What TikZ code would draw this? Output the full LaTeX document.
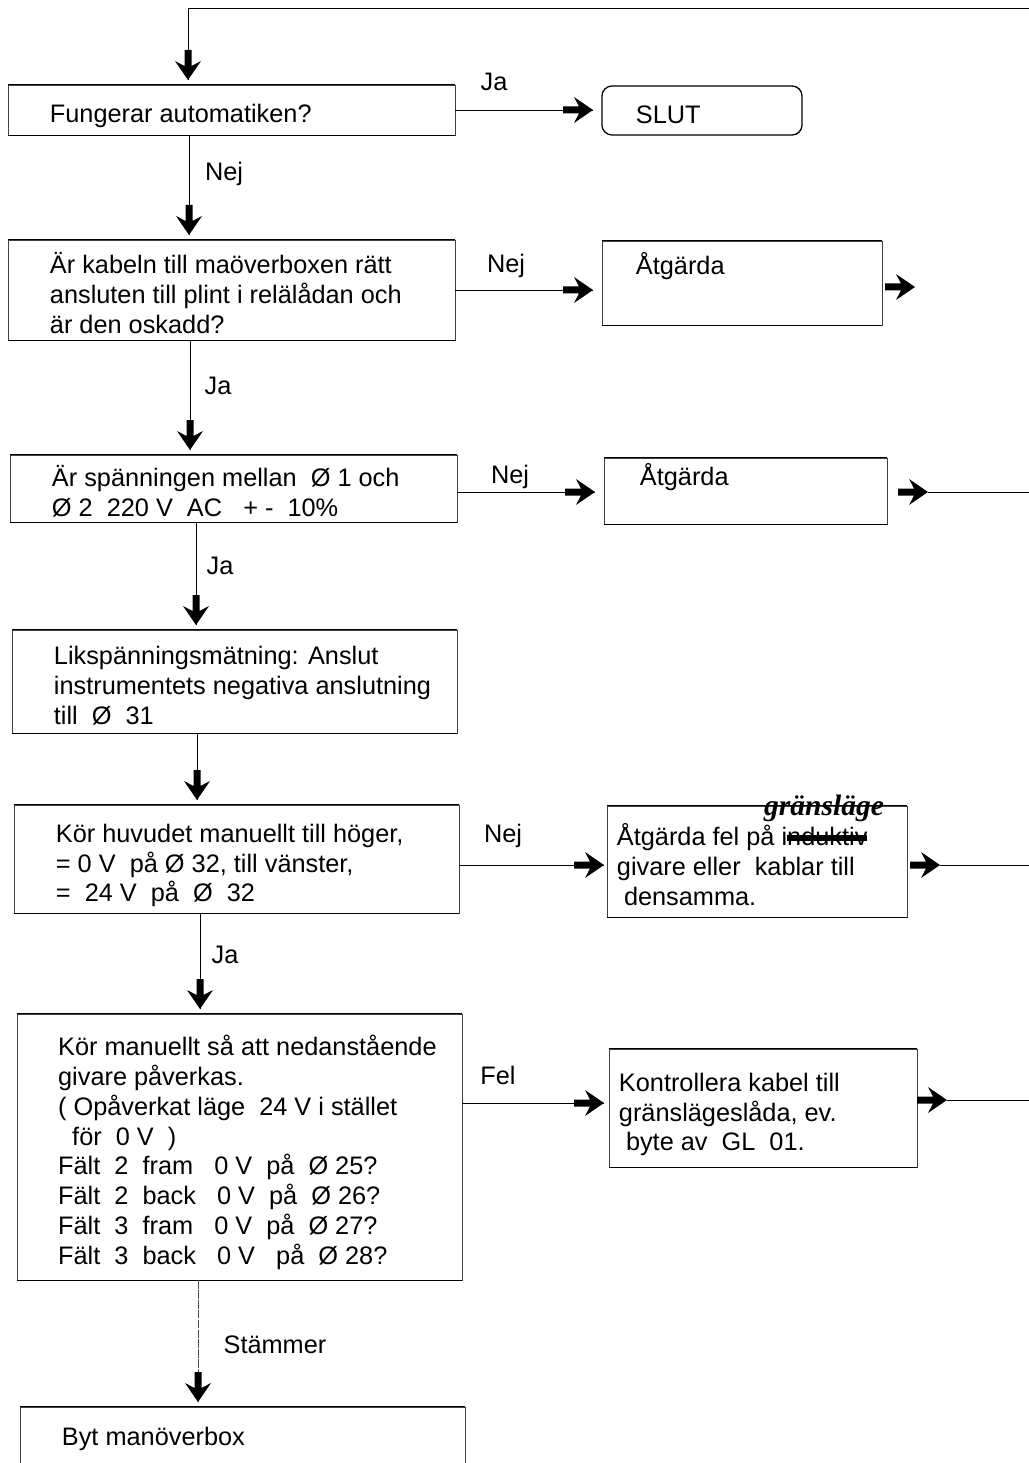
\documentclass[tikz,border=0pt]{standalone}
\usepackage{fontspec}
\setmainfont{Liberation Sans}
\newfontfamily\handfont{Liberation Serif}
\newcommand\bt[4][-0.175cm]{\makebox[#2][l]{\hspace{#3}\raisebox{#1}[\height][\depth]{\begin{tabular}{@{}l@{}}#4\end{tabular}}}}
\newcommand\strk[1]{\sbox0{#1}\rlap{\usebox0}\rule[.18em]{\wd0}{4pt}}
\begin{document}
\begin{tikzpicture}[x=0.025cm,y=-0.025cm,
  txt/.style={font=\fontsize{18}{21.3}\selectfont},
  box/.style={txt,draw=black!75,line width=0.5pt,inner sep=0pt},
  hedge/.style={line width=1.1pt,black},
  conn/.style={line width=0.7pt,black},
  lbl/.style={txt,inner sep=0pt},
  arrowglyph/.pic={\fill[black] (0,0) -- (-19,13) -- (-14,3.5) -- (-30,3.5) -- (-30,-3.5) -- (-14,-3.5) -- (-19,-13) -- cycle;}]
\useasboundingbox (0,0) rectangle (1029,1463);
\clip (0,0) rectangle (1029,1463);
\fill[white] (0,0) rectangle (1029,1463);

% boxes
\node[box,minimum width=11.175cm,minimum height=1.25cm] (q1) at (231.5,110) {\bt{11.175cm}{1.05cm}{Fungerar automatiken?}};
\node[box,draw=black,line width=0.9pt,rounded corners=0.25cm,minimum width=5cm,minimum height=1.225cm] (slut) at (702,110.5) {\bt{5cm}{0.85cm}{SLUT}};
\node[box,minimum width=11.175cm,minimum height=2.5cm] (q2) at (231.5,290) {\bt{11.175cm}{1.05cm}{Är kabeln till maöverboxen rätt\\ansluten till plint i relälådan och\\är den oskadd?}};
\node[box,minimum width=7cm,minimum height=2.1cm] (a2) at (742,283) {\bt[0cm]{7cm}{0.85cm}{Åtgärda\\ \mbox{}}};
\node[box,minimum width=11.175cm,minimum height=1.675cm] (q3) at (233.5,488.5) {\bt{11.175cm}{1.05cm}{Är spänningen mellan\ \ Ø 1 och\\Ø 2\ \ 220 V\ \ AC\ \ \ + -\ \ 10\%}};
\node[box,minimum width=7.075cm,minimum height=1.65cm] (a3) at (745.5,491) {\bt[-0.07cm]{7.075cm}{0.9cm}{Åtgärda\\ \mbox{}}};
\node[box,minimum width=11.125cm,minimum height=2.575cm] (q4) at (234.5,681.5) {\bt{11.125cm}{1.05cm}{Likspänningsmätning: Anslut\\instrumentets negativa anslutning\\till\ \ Ø\ \ 31}};
\node[box,minimum width=11.125cm,minimum height=2.7cm] (q5) at (236.5,859) {\bt{11.125cm}{1.05cm}{Kör huvudet manuellt till höger,\\= 0 V\ \ på Ø 32, till vänster,\\=\ \ 24 V\ \ på\ \ Ø\ \ 32}};
\node[box,minimum width=7.5cm,minimum height=2.775cm] (a5) at (757,861.5) {\bt{7.5cm}{0.25cm}{Åtgärda fel på i\strk{nduktiv}\\givare eller\ \ kablar till\\\ densamma.}};
\node[box,minimum width=11.125cm,minimum height=6.65cm] (q6) at (239.5,1147) {\bt{11.125cm}{1.03cm}{Kör manuellt så att nedanstående\\givare påverkas.\\( Opåverkat läge\ \ 24 V i stället\\\ \ för\ \ 0 V\ \ )\\Fält\ \ 2\ \ fram\ \ \ 0 V\ \ på\ \ Ø 25?\\Fält\ \ 2\ \ back\ \ \ 0 V\ \ på\ \ Ø 26?\\Fält\ \ 3\ \ fram\ \ \ 0 V\ \ på\ \ Ø 27?\\Fält\ \ 3\ \ back\ \ \ 0 V\ \ \ på\ \ Ø 28?}};
\node[box,minimum width=7.7cm,minimum height=2.95cm] (a6) at (763,1108) {\bt{7.7cm}{0.25cm}{Kontrollera kabel till\\gränslägeslåda, ev.\\\ byte av\ \ GL\ \ 01.}};
\node[box,minimum width=11.125cm,minimum height=1.6cm] (q7) at (242.5,1439) {\bt[0cm]{11.125cm}{1.05cm}{Byt manöverbox}};

% handwritten correction
\node[inner sep=0pt,font=\handfont\bfseries\itshape\fontsize{21}{21}\selectfont] (hw) at (824,808) {gränsläge};

% heavier top and bottom edges
\foreach \n in {q1,q2,a2,q3,a3,q4,q5,a5,q6,a6,q7}
  \draw[hedge] (\n.north west) -- (\n.north east) (\n.south west) -- (\n.south east);

% arrow tip coordinates
\coordinate (topR) at (1029,8);
\coordinate (d1) at (188,80);
\coordinate (d2) at (189,235);
\coordinate (d3) at (190,450);
\coordinate (d4) at (196,625);
\coordinate (d5) at (197,800);
\coordinate (d6) at (200,1009);
\coordinate (d7) at (198,1402);
\coordinate (h1) at (593,110);
\coordinate (h2) at (593,290);
\coordinate (h3) at (595,492);
\coordinate (h5) at (604,865);
\coordinate (h6) at (604,1103);
\coordinate (e2) at (915,287);
\coordinate (e3) at (928,492);
\coordinate (e5) at (940,865);
\coordinate (e6) at (947,1100);
\coordinate (r3) at (1029,492);
\coordinate (r5) at (1029,865);
\coordinate (r6) at (1029,1100);

% connectors
\draw[conn] (topR) -| (d1);
\draw[conn] (q1.south -| d2) -- (d2);
\draw[conn] (q2.south -| d3) -- (d3);
\draw[conn] (q3.south -| d4) -- (d4);
\draw[conn] (q4.south -| d5) -- (d5);
\draw[conn] (q5.south -| d6) -- (d6);
\draw[conn,black!70,line width=0.5pt,dash pattern=on 6pt off 1pt] (q6.south -| d7) -- (d7);
\draw[conn] (q1.east |- h1) -- (h1);
\draw[conn] (q2.east |- h2) -- (h2);
\draw[conn] (q3.east |- h3) -- (h3);
\draw[conn] (q5.east |- h5) -- (h5);
\draw[conn] (q6.east |- h6) -- (h6);
\draw[conn] (e3) -- (r3);
\draw[conn] (e5) -- (r5);
\draw[conn] (e6) -- (r6);

% arrow glyphs
\foreach \c in {d1,d2,d3,d4,d5,d6,d7} \pic[rotate=-90] at (\c) {arrowglyph};
\foreach \c in {h1,h2,h3,h5,h6,e2,e3,e5,e6} \pic at (\c) {arrowglyph};

% labels
\node[lbl] (l1) at (494,82) {Ja};
\node[lbl] (l2) at (224,174) {Nej};
\node[lbl] (l3) at (506,266) {Nej};
\node[lbl] (l4) at (218,386) {Ja};
\node[lbl] (l5) at (510,477) {Nej};
\node[lbl] (l6) at (220,566) {Ja};
\node[lbl] (l7) at (503,836) {Nej};
\node[lbl] (l8) at (225,955) {Ja};
\node[lbl] (l9) at (498,1075) {Fel};
\node[lbl] (l10) at (275,1345) {Stämmer};
\end{tikzpicture}
\end{document}
